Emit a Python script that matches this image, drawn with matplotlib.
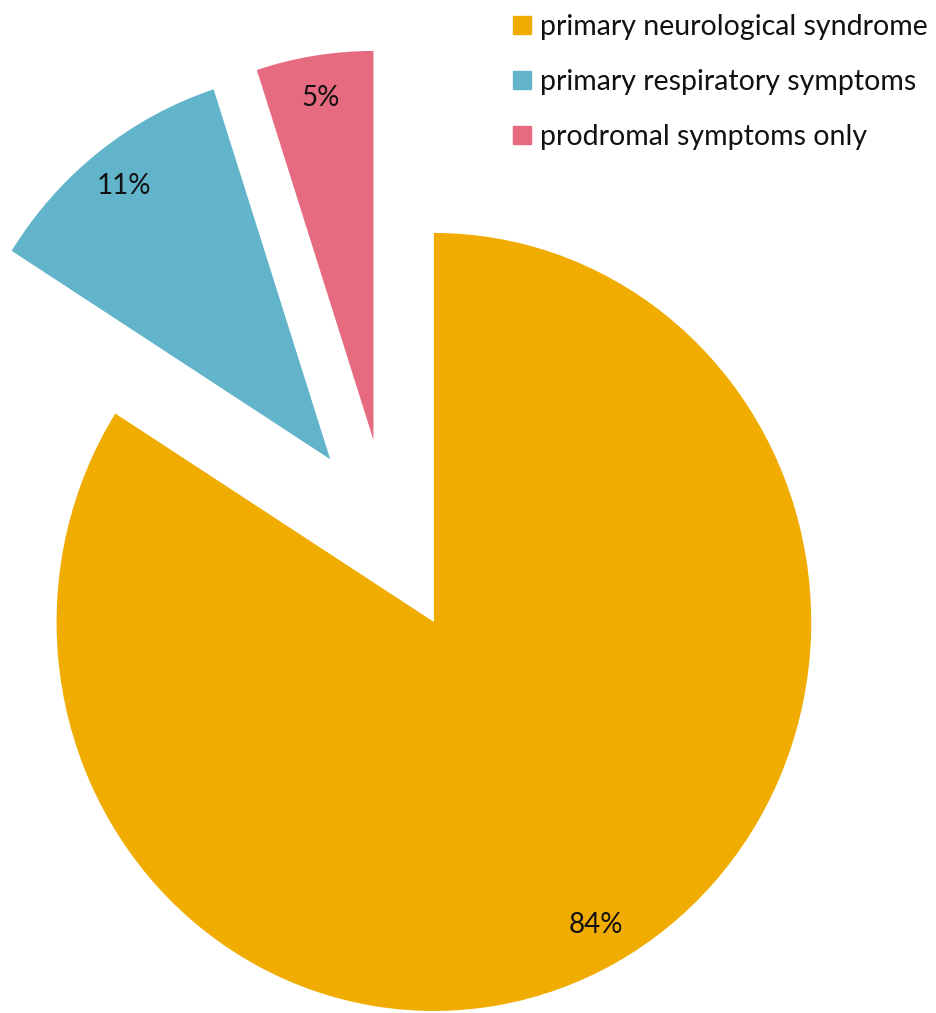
import matplotlib
matplotlib.use("Agg")
import matplotlib.pyplot as plt
from matplotlib.lines import Line2D

categories = ["primary neurological syndrome",
              "primary respiratory symptoms",
              "prodromal symptoms only"]
shares = [84, 11, 5]
colors = ["#F0AC00", "#62B4CB", "#E66A80"]
explode = [0.251, 0.251, 0.251]

plt.rcParams["font.family"] = ["Lato", "DejaVu Sans"]

W, H = 936, 1013
fig = plt.figure(figsize=(W / 100, H / 100), dpi=100)
ax = fig.add_axes([0, 0, 1, 1])

wedges, texts, autotexts = ax.pie(
    shares, colors=colors, explode=explode, startangle=90,
    counterclock=False, radius=1.0, autopct="%.0f%%", pctdistance=0.89,
    wedgeprops=dict(linewidth=0),
    textprops=dict(fontsize=20, color="#111111"),
)

# slightly wider-than-tall canvas mapping: pie is drawn a touch narrow
ax.set_aspect("auto")
ax.set_xlim(-1.029, 1.4516)
ax.set_ylim(-1.2252, 1.3789)
ax.axis("off")

handles = [Line2D([0], [0], marker="s", linestyle="none", markersize=13,
                  markerfacecolor=c, markeredgecolor=c) for c in colors]
fig.legend(handles, categories, loc="upper left",
           bbox_to_anchor=(509 / W, 1 - 14 / H), frameon=False,
           fontsize=20.5, handlelength=0.9, handletextpad=0.19,
           labelspacing=1.02, borderpad=0, borderaxespad=0,
           labelcolor="#111111")

fig.savefig("out.png", dpi=100)
